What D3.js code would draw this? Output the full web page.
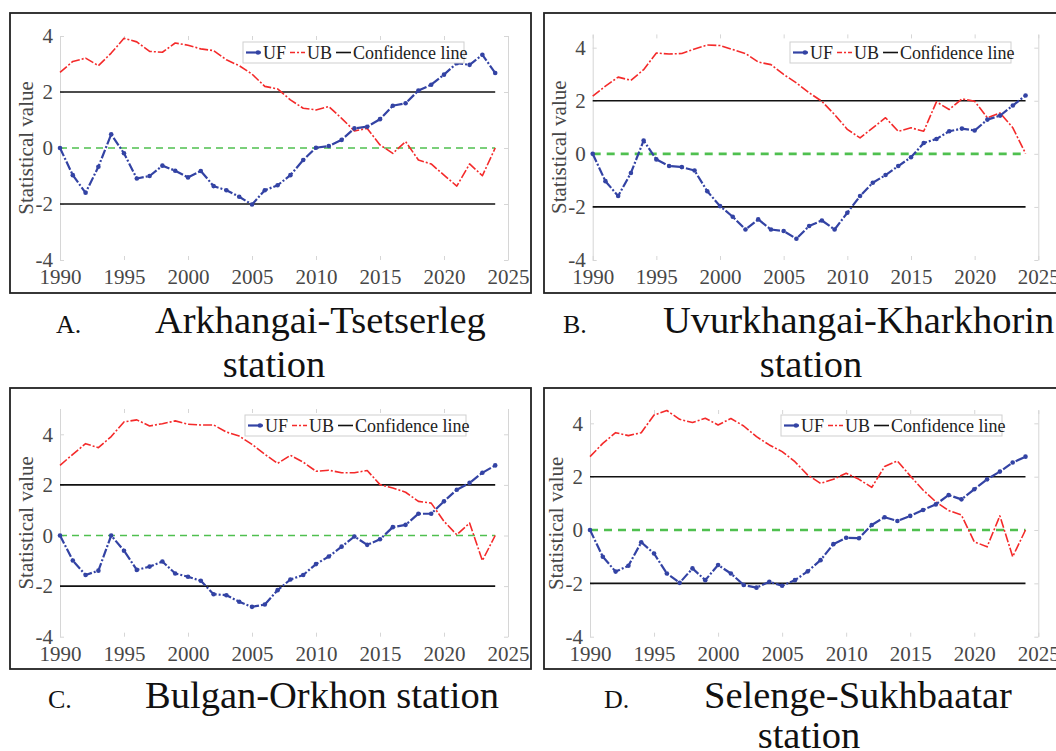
<!DOCTYPE html>
<html>
<head>
<meta charset="utf-8">
<script src="https://cdn.jsdelivr.net/npm/d3@7"></script>
<style>
  body { margin: 0; background: #fff; }
  svg { display: block; }
</style>
</head>
<body>
<svg id="chart" width="1056" height="751" font-family="Liberation Serif"></svg>
<script>
// years of the Mann-Kendall test
var years = [1990, 1991, 1992, 1993, 1994, 1995, 1996, 1997, 1998, 1999,
             2000, 2001, 2002, 2003, 2004, 2005, 2006, 2007, 2008, 2009,
             2010, 2011, 2012, 2013, 2014, 2015, 2016, 2017, 2018, 2019,
             2020, 2021, 2022, 2023, 2024];

// A. Arkhangai-Tsetserleg
var ufA = [0, -0.97, -1.6, -0.67, 0.49, -0.19, -1.09, -1.0, -0.63, -0.81,
           -1.05, -0.82, -1.36, -1.51, -1.74, -2.02, -1.51, -1.33, -0.97, -0.43,
           0.01, 0.07, 0.29, 0.7, 0.76, 1.03, 1.51, 1.6, 2.05, 2.26,
           2.62, 3.03, 2.97, 3.33, 2.68];
var ubA = [2.7, 3.09, 3.21, 2.94, 3.39, 3.92, 3.79, 3.45, 3.42, 3.75,
           3.67, 3.54, 3.48, 3.15, 2.94, 2.64, 2.2, 2.11, 1.72, 1.42,
           1.36, 1.48, 1.06, 0.61, 0.7, 0.11, -0.19, 0.23, -0.43, -0.57,
           -0.97, -1.36, -0.57, -0.99, 0];

// B. Uvurkhangai-Kharkhorin
var ufB = [0, -1.03, -1.59, -0.72, 0.5, -0.21, -0.46, -0.5, -0.63, -1.41,
           -1.97, -2.37, -2.85, -2.47, -2.85, -2.91, -3.2, -2.72, -2.51, -2.85,
           -2.22, -1.59, -1.09, -0.8, -0.46, -0.13, 0.41, 0.56, 0.85, 0.95,
           0.88, 1.29, 1.44, 1.82, 2.2];
var ubB = [2.17, 2.55, 2.89, 2.77, 3.17, 3.8, 3.76, 3.78, 3.95, 4.1,
           4.08, 3.93, 3.78, 3.46, 3.36, 2.99, 2.67, 2.3, 1.98, 1.48,
           0.92, 0.6, 0.98, 1.36, 0.85, 0.98, 0.85, 1.96, 1.67, 2.07,
           1.98, 1.36, 1.54, 0.98, 0.01];

// C. Bulgan-Orkhon
var ufC = [0, -0.99, -1.56, -1.39, 0, -0.6, -1.36, -1.23, -1.03, -1.5,
           -1.63, -1.79, -2.32, -2.36, -2.62, -2.82, -2.73, -2.16, -1.74, -1.56,
           -1.13, -0.83, -0.44, -0.04, -0.37, -0.15, 0.33, 0.42, 0.86, 0.86,
           1.35, 1.81, 2.08, 2.48, 2.77];
var ubC = [2.77, 3.21, 3.63, 3.47, 3.91, 4.49, 4.57, 4.33, 4.42, 4.53,
           4.4, 4.37, 4.37, 4.09, 3.93, 3.6, 3.21, 2.85, 3.17, 2.9,
           2.54, 2.58, 2.48, 2.48, 2.57, 2.01, 1.88, 1.71, 1.35, 1.28,
           0.56, 0.03, 0.49, -0.99, 0];

// D. Selenge-Sukhbaatar
var ufD = [0, -1.0, -1.56, -1.34, -0.46, -0.88, -1.63, -1.98, -1.44, -1.88,
           -1.31, -1.63, -2.06, -2.16, -1.94, -2.09, -1.88, -1.55, -1.13, -0.53,
           -0.29, -0.31, 0.19, 0.48, 0.34, 0.53, 0.75, 0.96, 1.31, 1.15,
           1.53, 1.9, 2.19, 2.53, 2.75];
var ubD = [2.75, 3.25, 3.65, 3.54, 3.65, 4.31, 4.48, 4.15, 4.03, 4.19,
           3.94, 4.18, 3.9, 3.5, 3.19, 2.94, 2.56, 2.06, 1.75, 1.9,
           2.13, 1.9, 1.6, 2.38, 2.59, 2.03, 1.5, 1.06, 0.73, 0.56,
           -0.44, -0.63, 0.53, -1.0, 0];

var confidence = [-2, 2];
var xTicks = [1990, 1995, 2000, 2005, 2010, 2015, 2020, 2025];
var yTicks = [-4, -2, 0, 2, 4];
var legendLabels = ["UF", "UB", "Confidence line"];
var yLabel = "Statistical value";
var letters = ["A.", "B.", "C.", "D."];
var titles = [["Arkhangai-Tsetserleg", "station"],
              ["Uvurkhangai-Kharkhorin", "station"],
              ["Bulgan-Orkhon station"],
              ["Selenge-Sukhbaatar", "station"]];

var UF_COLOR = "#3343a4", UB_COLOR = "#f42a2a", ZERO_COLOR = "#4fc04f";
var AXIS_GRAY = "#d6d6d6", TEXT_GRAY = "#474747";
var SERIF = "Liberation Serif";

// layout of each panel (frame, plot area, y range, legend, caption)
var panels = [
  { uf: ufA, ub: ubA, frame: [10, 13, 531, 293], plot: [60, 508, 260, 36], ydom: [-4, 4],
    legend: [243, 42], zeroW: 1.6, zeroDash: "7,5",
    cap: { lx: 56, tx: 155, y: 333, sx: 274, sy: 377 } },
  { uf: ufB, ub: ubB, frame: [544, 13, 1062, 293], plot: [592.7, 1038.3, 260, 34.4], ydom: [-4, 4.5],
    legend: [790, 42], zeroW: 2.6, zeroDash: "8,6",
    cap: { lx: 563, tx: 663, y: 333, sx: 811, sy: 377 } },
  { uf: ufC, ub: ubC, frame: [10, 388, 531, 669], plot: [60, 508, 636.7, 409], ydom: [-4, 5],
    legend: [245, 415], zeroW: 1.6, zeroDash: "7,5",
    cap: { lx: 48, tx: 145, y: 708, sx: 0, sy: 0 } },
  { uf: ufD, ub: ubD, frame: [544, 388, 1062, 669], plot: [590, 1038.3, 636.7, 410], ydom: [-4, 4.5],
    legend: [781, 415], zeroW: 2.6, zeroDash: "8,6",
    cap: { lx: 604, tx: 704, y: 708, sx: 809, sy: 748 } }
];

var svg = d3.select("#chart");

panels.forEach(function(p, idx) {
  var g = svg.append("g");

  // outer frame
  g.append("rect")
    .attr("x", p.frame[0]).attr("y", p.frame[1])
    .attr("width", p.frame[2] - p.frame[0]).attr("height", p.frame[3] - p.frame[1])
    .attr("fill", "none").attr("stroke", "#222").attr("stroke-width", 1.8);

  var x = d3.scaleLinear().domain([1990, 2025]).range([p.plot[0], p.plot[1]]);
  var y = d3.scaleLinear().domain(p.ydom).range([p.plot[2], p.plot[3]]);

  // axes: light gray, inward ticks
  var left = g.append("g").attr("transform", "translate(" + p.plot[0] + ",0)")
    .call(d3.axisLeft(y).tickValues(yTicks).tickSize(-4).tickSizeOuter(0).tickPadding(7)
      .tickFormat(function(d) { return String(d); }));
  var right = g.append("g").attr("transform", "translate(" + p.plot[1] + ",0)")
    .call(d3.axisRight(y).tickValues(yTicks).tickSize(-4).tickSizeOuter(0).tickFormat(""));
  var bottom = g.append("g").attr("transform", "translate(0," + p.plot[2] + ")")
    .call(d3.axisBottom(x).tickValues(xTicks).tickSize(-4).tickSizeOuter(0)
      .tickPadding(9).tickFormat(function(d) { return String(d); }));
  var top = g.append("g").attr("transform", "translate(0," + p.plot[3] + ")")
    .call(d3.axisTop(x).tickValues(xTicks).tickSize(-4).tickSizeOuter(0).tickFormat(""));

  [left, right, bottom, top].forEach(function(a) {
    a.attr("font-family", SERIF).attr("font-size", 21);
    a.selectAll("line").attr("stroke", AXIS_GRAY);
    a.select(".domain").attr("stroke", AXIS_GRAY);
    a.selectAll("text").attr("fill", TEXT_GRAY).attr("font-family", SERIF);
  });
  bottom.select(".domain").remove();
  top.select(".domain").remove();

  // y label
  g.append("text")
    .attr("transform", "translate(" + (p.plot[0] - 34) + "," + ((p.plot[2] + p.plot[3]) / 2) + ") rotate(-90)")
    .attr("text-anchor", "middle").attr("dy", "0.35em")
    .attr("fill", TEXT_GRAY).attr("font-family", SERIF).attr("font-size", 21)
    .text(yLabel);

  var x0 = years[0], x1 = years[years.length - 1];

  // zero line
  g.append("line")
    .attr("x1", x(x0)).attr("x2", x(x1)).attr("y1", y(0)).attr("y2", y(0))
    .attr("stroke", ZERO_COLOR).attr("stroke-width", p.zeroW).attr("stroke-dasharray", p.zeroDash);

  // confidence lines
  g.selectAll(".conf").data(confidence).enter().append("line")
    .attr("x1", x(x0)).attr("x2", x(x1))
    .attr("y1", function(d) { return y(d); }).attr("y2", function(d) { return y(d); })
    .attr("stroke", "#111").attr("stroke-width", 1.6);

  var line = d3.line().x(function(d, i) { return x(years[i]); }).y(function(d) { return y(d); });

  g.append("path").datum(p.ub).attr("d", line)
    .attr("fill", "none").attr("stroke", UB_COLOR).attr("stroke-width", 1.6)
    .attr("stroke-dasharray", "9,2,2,2").attr("stroke-linejoin", "round");

  g.append("path").datum(p.uf).attr("d", line)
    .attr("fill", "none").attr("stroke", UF_COLOR).attr("stroke-width", 2.2)
    .attr("stroke-dasharray", "9,2,2,2").attr("stroke-linejoin", "round");

  g.selectAll(".ufdot").data(p.uf).enter().append("circle")
    .attr("cx", function(d, i) { return x(years[i]); })
    .attr("cy", function(d) { return y(d); })
    .attr("r", 2.3).attr("fill", UF_COLOR);

  // legend
  var lg = g.append("g").attr("transform", "translate(" + p.legend[0] + "," + p.legend[1] + ")");
  lg.append("rect").attr("width", 221).attr("height", 21)
    .attr("fill", "#fff").attr("stroke", "#cfcfcf").attr("stroke-width", 1);
  var lx = 3;
  var styles = [
    { c: UF_COLOR, w: 2.2, dash: null, dot: true },
    { c: UB_COLOR, w: 1.6, dash: "5,2,2,2", dot: false },
    { c: "#111", w: 1.6, dash: null, dot: false }
  ];
  legendLabels.forEach(function(lab, i) {
    var s = styles[i];
    var ln = lg.append("line").attr("x1", lx).attr("x2", lx + 15)
      .attr("y1", 10.5).attr("y2", 10.5)
      .attr("stroke", s.c).attr("stroke-width", s.w);
    if (s.dash) ln.attr("stroke-dasharray", s.dash);
    if (s.dot) lg.append("circle").attr("cx", lx + 12).attr("cy", 10.5).attr("r", 2.3).attr("fill", s.c);
    var t = lg.append("text").attr("x", lx + 17).attr("y", 16.5)
      .attr("fill", "#222").attr("font-family", SERIF).attr("font-size", 18).text(lab);
    lx += 17 + t.node().getComputedTextLength() + 4;
  });

  // caption
  svg.append("text").attr("x", p.cap.lx).attr("y", p.cap.y)
    .attr("font-family", SERIF).attr("font-size", 26).attr("fill", "#111").text(letters[idx]);
  svg.append("text").attr("x", p.cap.tx).attr("y", p.cap.y)
    .attr("font-family", SERIF).attr("font-size", 38.5).attr("fill", "#111").text(titles[idx][0]);
  if (titles[idx][1]) {
    svg.append("text").attr("x", p.cap.sx).attr("y", p.cap.sy)
      .attr("text-anchor", "middle")
      .attr("font-family", SERIF).attr("font-size", 38.5).attr("fill", "#111").text(titles[idx][1]);
  }
});
</script>
</body>
</html>
